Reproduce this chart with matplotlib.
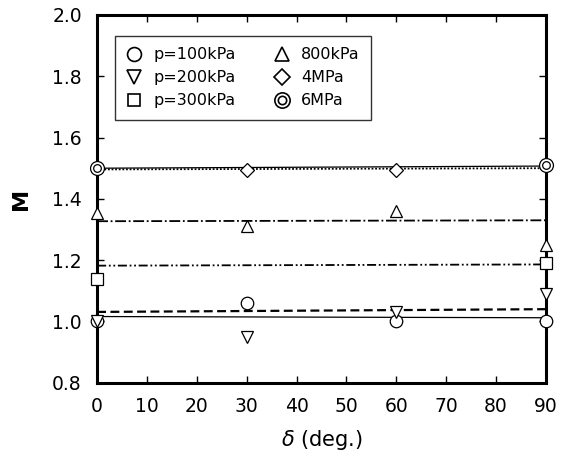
import matplotlib
matplotlib.use('Agg')
import matplotlib.pyplot as plt
from matplotlib.lines import Line2D
import numpy as np

plt.rcParams['font.family'] = ['DejaVu Sans']

delta = [0, 30, 60, 90]
labels = ['p=100kPa', 'p=200kPa', 'p=300kPa', '800kPa', '4MPa', '6MPa']

# measured M at each angle (None = not measured)
m_100k = [1.00, 1.06, 1.00, 1.00]
m_200k = [1.00, 0.95, 1.03, 1.09]
m_300k = [1.14, None, None, 1.19]
m_800k = [1.355, 1.31, 1.36, 1.25]
m_4M = [1.50, 1.495, 1.495, 1.51]
m_6M = [1.50, None, None, 1.51]

# fitted lines, value at delta = 0 and 90
fit_100k = [1.016, 1.012]
fit_200k = [1.031, 1.040]
fit_300k = [1.182, 1.186]
fit_800k = [1.327, 1.330]
fit_4M = [1.496, 1.500]
fit_6M = [1.500, 1.507]
fit_x = [0, 90]

fig = plt.figure(figsize=(5.68, 4.54), dpi=100)
ax = fig.add_axes([0.171, 0.157, 0.790, 0.810])

ax.plot(fit_x, fit_100k, color='black', lw=0.9, ls='-')
ax.plot(fit_x, fit_200k, color='black', lw=1.6, ls=(0, (4, 2)))
ax.plot(fit_x, fit_300k, color='black', lw=1.3, ls=(0, (5, 1.5, 1, 1.5, 1, 1.5)))
ax.plot(fit_x, fit_800k, color='black', lw=1.3, ls=(0, (6, 1.5, 1, 1.5)))
ax.plot(fit_x, fit_4M, color='black', lw=1.3, ls=(0, (1, 1)))
ax.plot(fit_x, fit_6M, color='black', lw=0.9, ls='-')


def pts(vals):
    x = [d for d, v in zip(delta, vals) if v is not None]
    y = [v for v in vals if v is not None]
    return x, y


mk = dict(ls='none', mfc='white', mec='black', mew=0.9, clip_on=False, zorder=5)
ax.plot(*pts(m_100k), marker='o', ms=9, **mk)
ax.plot(*pts(m_200k), marker='v', ms=9, **mk)
ax.plot(*pts(m_300k), marker='s', ms=8, **mk)
ax.plot(*pts(m_800k), marker='^', ms=9, **mk)
ax.plot(*pts(m_4M), marker='D', ms=7, **mk)
ax.plot(*pts(m_6M), marker='o', ms=10, **mk)
ax.plot(*pts(m_6M), marker='o', ms=5.5, **mk)

ax.set_xlim(0, 90)
ax.set_ylim(0.8, 2.0)
ax.set_xticks(np.arange(0, 91, 10))
ax.set_yticks(np.arange(0.8, 2.01, 0.2))
ax.set_yticklabels(['%.1f' % v for v in np.arange(0.8, 2.01, 0.2)])
ax.tick_params(direction='in', length=5, width=1, top=True, right=True,
               labelsize=13.5)
ax.tick_params(axis='x', pad=10)
ax.tick_params(axis='y', pad=11)
for s in ax.spines.values():
    s.set_linewidth(2.2)

ax.set_xlabel(r'$\delta$ (deg.)', fontsize=15, labelpad=9)
ax.set_ylabel('M', fontsize=16, fontweight='bold', labelpad=15)

# legend shows symbols only
h = [
    Line2D([], [], ls='none', marker='o', ms=10, mfc='white', mec='black', mew=1.2),
    Line2D([], [], ls='none', marker='v', ms=10, mfc='white', mec='black', mew=1.2),
    Line2D([], [], ls='none', marker='s', ms=9, mfc='white', mec='black', mew=1.2),
    Line2D([], [], ls='none', marker='^', ms=10, mfc='white', mec='black', mew=1.2),
    Line2D([], [], ls='none', marker='D', ms=8, mfc='white', mec='black', mew=1.2),
    (Line2D([], [], ls='none', marker='o', ms=11, mfc='white', mec='black', mew=1.2),
     Line2D([], [], ls='none', marker='o', ms=6, mfc='white', mec='black', mew=1.2)),
]
leg = ax.legend(h, labels, ncol=2, loc='upper left', bbox_to_anchor=(0.04, 0.942),
                fontsize=11.5, frameon=True, fancybox=False, edgecolor='black',
                handlelength=1.0, handletextpad=0.7, columnspacing=2.4,
                labelspacing=0.5, borderpad=0.7, borderaxespad=0)
leg.get_frame().set_linewidth(1.0)

fig.savefig('out.png', dpi=100)
